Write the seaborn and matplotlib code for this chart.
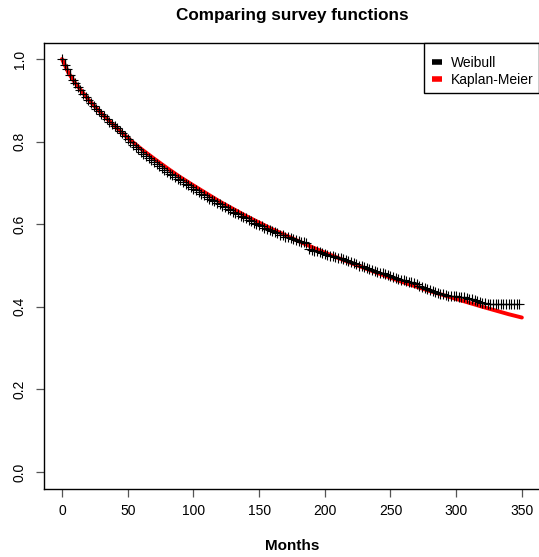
import matplotlib
matplotlib.use("Agg")
import matplotlib.pyplot as plt
from matplotlib.lines import Line2D
from matplotlib.patches import Rectangle
import seaborn as sns
import pandas as pd

# Kaplan-Meier style estimate: survival at each observed (censored) month
km_months = [
    0, 2, 4, 6, 8, 10, 12, 14, 16, 18, 20, 22, 24, 26, 28, 30, 32, 34, 36,
    38, 40, 42, 44, 46, 48, 50, 52, 54, 56, 58, 60, 62, 64, 66, 68, 70, 72,
    74, 76, 78, 80, 82, 84, 86, 88, 90, 92, 94, 96, 98, 100, 102, 104, 106,
    108, 110, 112, 114, 116, 118, 120, 122, 124, 126, 128, 130, 132, 134,
    136, 138, 140, 142, 144, 146, 148, 150, 152, 154, 156, 158, 160, 162,
    164, 166, 168, 170, 172, 174, 176, 178, 180, 182, 184, 186, 188, 190,
    192, 194, 196, 198, 200, 202, 204, 206, 208, 210, 212, 214, 216, 218,
    220, 222, 224, 226, 228, 230, 232, 234, 236, 238, 240, 242, 244, 246,
    248, 250, 252, 254, 256, 258, 260, 262, 264, 266, 268, 270, 272, 274,
    276, 278, 280, 282, 284, 286, 288, 290, 292, 294, 296, 298, 300, 302,
    304, 306, 308, 310, 312, 314, 316, 318, 320, 322, 324, 326, 328, 330,
    332, 334, 336, 338, 340, 342, 344, 346, 348]
km_surv = [
    1.000, 0.985, 0.975, 0.962, 0.950, 0.941, 0.932, 0.924, 0.916, 0.908,
    0.900, 0.893, 0.886, 0.880, 0.873, 0.867, 0.861, 0.854, 0.848, 0.843,
    0.837, 0.832, 0.826, 0.820, 0.813, 0.807, 0.800, 0.793, 0.787, 0.781,
    0.776, 0.771, 0.766, 0.760, 0.755, 0.751, 0.746, 0.741, 0.736, 0.732,
    0.727, 0.722, 0.718, 0.714, 0.710, 0.706, 0.702, 0.698, 0.694, 0.690,
    0.686, 0.682, 0.678, 0.674, 0.670, 0.666, 0.662, 0.659, 0.655, 0.651,
    0.648, 0.644, 0.641, 0.637, 0.634, 0.630, 0.627, 0.624, 0.621, 0.617,
    0.614, 0.610, 0.607, 0.604, 0.601, 0.598, 0.595, 0.592, 0.589, 0.586,
    0.583, 0.580, 0.578, 0.575, 0.573, 0.570, 0.568, 0.566, 0.564, 0.562,
    0.560, 0.558, 0.556, 0.554, 0.540, 0.538, 0.536, 0.534, 0.532, 0.530,
    0.528, 0.526, 0.524, 0.522, 0.521, 0.519, 0.518, 0.515, 0.513, 0.511,
    0.509, 0.506, 0.503, 0.500, 0.498, 0.496, 0.494, 0.491, 0.489, 0.487,
    0.485, 0.483, 0.481, 0.479, 0.477, 0.474, 0.472, 0.470, 0.468, 0.466,
    0.464, 0.462, 0.461, 0.459, 0.457, 0.454, 0.451, 0.448, 0.445, 0.442,
    0.440, 0.438, 0.436, 0.434, 0.432, 0.430, 0.428, 0.427, 0.426, 0.425,
    0.425, 0.424, 0.424, 0.423, 0.422, 0.420, 0.418, 0.416, 0.414, 0.412,
    0.410, 0.408, 0.407, 0.407, 0.407, 0.407, 0.407, 0.407, 0.407, 0.407,
    0.407, 0.407, 0.407, 0.407, 0.407]

# Fitted parametric survival curve
fit_months = [0, 5, 10, 20, 30, 40, 50, 60, 70, 80, 90, 100, 120, 140, 160,
              180, 200, 220, 240, 260, 280, 300, 320, 340, 350]
fit_surv = [1.000, 0.966, 0.942, 0.902, 0.868, 0.838, 0.809, 0.783, 0.759,
            0.736, 0.714, 0.694, 0.655, 0.620, 0.588, 0.559, 0.531, 0.506,
            0.482, 0.459, 0.438, 0.419, 0.400, 0.382, 0.374]

x_ticks = [0, 50, 100, 150, 200, 250, 300, 350]
y_ticks = [0.0, 0.2, 0.4, 0.6, 0.8, 1.0]
legend_labels = ["Weibull", "Kaplan-Meier"]

km = pd.DataFrame({"Months": km_months, "Survival": km_surv})
fit = pd.DataFrame({"Months": fit_months, "Survival": fit_surv})

sns.set_theme(style="white")
plt.rcParams["font.family"] = ["Liberation Sans", "DejaVu Sans"]
plt.rcParams["text.color"] = "black"
plt.rcParams["axes.labelcolor"] = "black"
plt.rcParams["xtick.color"] = "black"
plt.rcParams["ytick.color"] = "black"

fig = plt.figure(figsize=(5.39, 5.57), dpi=100)
ax = fig.add_axes([44 / 539, (557 - 488.5) / 557, 496 / 539, 446 / 557])

sns.lineplot(data=fit, x="Months", y="Survival", ax=ax, color="#ff0000",
             lw=2.8, zorder=2, estimator=None, sort=False)
sns.lineplot(data=km, x="Months", y="Survival", ax=ax, color="black",
             lw=0.9, drawstyle="steps-post", zorder=3, estimator=None,
             sort=False)
sns.scatterplot(data=km, x="Months", y="Survival", ax=ax, marker="+",
                color="black", s=42, linewidth=0.8, zorder=4)

ax.set_xlim(-13.7, 363.8)
ax.set_ylim(-0.04, 1.04)
ax.set_xticks(x_ticks)
ax.set_xticklabels([str(t) for t in x_ticks])
ax.set_yticks(y_ticks)
ax.set_yticklabels([f"{t:.1f}" for t in y_ticks], rotation=90, va="center")

for side in ["left", "bottom", "top", "right"]:
    ax.spines[side].set_color("black")
    ax.spines[side].set_linewidth(1.0)
ax.tick_params(axis="both", which="major", direction="out", length=5.5,
               width=0.9, color="#555555", labelsize=10, labelcolor="black",
               bottom=True, left=True, top=False, right=False)
ax.tick_params(axis="x", pad=6)
ax.tick_params(axis="y", pad=7)

ax.set_xlabel("Months", fontsize=11, fontweight="bold", labelpad=15)
ax.set_ylabel("")
ax.set_title("Comparing survey functions", fontsize=12.3, fontweight="bold",
             pad=16, color="black")

# Legend: boxed panel in the upper right corner
ax.add_patch(Rectangle((0.766, 0.886), 0.232, 0.114, transform=ax.transAxes,
                       facecolor="white", edgecolor="black", lw=1.0,
                       zorder=5, clip_on=False))
handles = [Line2D([0], [0], color="black", lw=4, solid_capstyle="butt"),
           Line2D([0], [0], color="#ff0000", lw=4, solid_capstyle="butt")]
leg = ax.legend(handles, legend_labels, loc="upper left",
                bbox_to_anchor=(0.782, 0.970), borderaxespad=0, fontsize=10,
                handlelength=0.7, handletextpad=0.65, borderpad=0,
                labelspacing=0.22, frameon=False)
leg.set_zorder(6)

fig.savefig("out.png", dpi=100)
